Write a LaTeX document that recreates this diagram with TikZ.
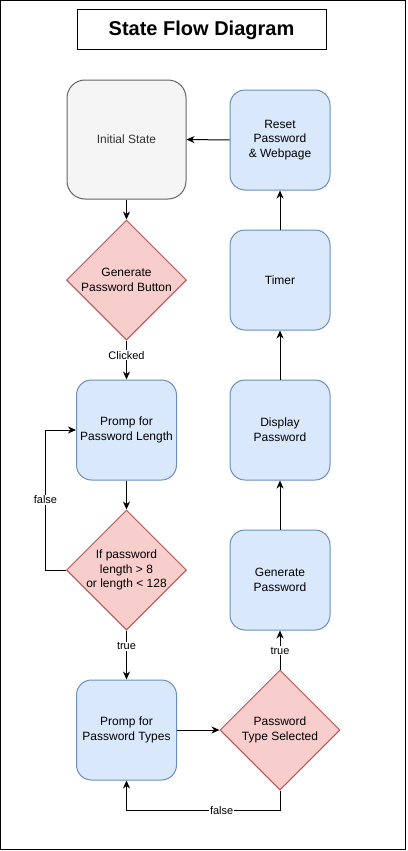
\documentclass[tikz,border=0pt]{standalone}
\usepackage{fontspec}
\setmainfont{Liberation Sans}
\usetikzlibrary{shapes.geometric,arrows.meta}
\definecolor{bluefill}{HTML}{DAE8FC}
\definecolor{bluedraw}{HTML}{6C8EBF}
\definecolor{redfill}{HTML}{F8CECC}
\definecolor{reddraw}{HTML}{B85450}
\definecolor{grayfill}{HTML}{F5F5F5}
\definecolor{graydraw}{HTML}{666666}
\definecolor{graytext}{HTML}{333333}
\begin{document}
\begin{tikzpicture}[x=1pt,y=-1pt,
  txt/.style={font=\fontsize{12}{14.6}\selectfont, align=center},
  box/.style={txt, draw=bluedraw, fill=bluefill, rounded corners=15pt,
    minimum width=100pt, minimum height=100pt, inner sep=0pt, line width=1pt},
  startbox/.style={txt, draw=graydraw, fill=grayfill, text=graytext, rounded corners=18pt,
    minimum width=119pt, minimum height=119pt, inner sep=0pt, line width=1pt},
  decision/.style={diamond, draw=reddraw, fill=redfill, minimum width=120pt,
    minimum height=120pt, inner sep=0pt, line width=1pt},
  conn/.style={line width=1pt, -{Stealth[length=8pt,width=7pt,inset=2.5pt]}},
  lab/.style={fill=white, font=\fontsize{11}{13}\selectfont, inner sep=1pt}]
\useasboundingbox (0,0) rectangle (407,851);
\draw[line width=1pt] (0.5,0.5) rectangle (405.8,849.8);

\node[draw, line width=1pt, minimum width=249pt, minimum height=40pt,
  font=\bfseries\fontsize{20}{24}\selectfont] (title) at (201.5,30) {State Flow Diagram};

\node[startbox] (init) at (126.5,139.5) {Initial State};
\node[box] (reset) at (280,140) {Reset\\Password\\\& Webpage};
\node[decision, label={[name=gpbt, txt]center:Generate\\Password Button}] (gpb) at (126.5,280) {};
\node[box] (timer) at (280,280) {Timer};
\node[box] (plen) at (126.5,430) {Promp for\\Password Length};
\node[box] (disp) at (280,430) {Display\\Password};
\node[decision, label={[name=chkt, txt]center:If password\\length > 8\\or length < 128}] (chk) at (126.5,570) {};
\node[box] (gen) at (280,580) {Generate\\Password};
\node[box] (ptypes) at (126.5,730) {Promp for\\Password Types};
\node[decision, label={[name=ptst, txt]center:Password\\Type Selected}] (pts) at (280,730) {};

\draw[conn] (reset.west) -- (init.east);
\draw[conn] (init.south) -- (gpb.north);
\draw[conn] (gpb.south) -- node[lab, pos=0.38] {Clicked} (plen.north);
\draw[conn] (plen.south) -- (chk.north);
\draw[conn] (chk.west) -- ++(-20.5,0) |- node[lab, pos=0.25] {false} (plen.west);
\draw[conn] (chk.south) -- node[lab, pos=0.32] {true} (ptypes.north);
\draw[conn] (ptypes.east) -- (pts.west);
\draw[conn] (pts.north) -- node[lab, pos=0.48] {true} (gen.south);
\draw[conn] (gen.north) -- (disp.south);
\draw[conn] (disp.north) -- (timer.south);
\draw[conn] (timer.north) -- (reset.south);
\draw[conn] (pts.south) -- ++(0,20) -| node[lab, pos=0.19] {false} (ptypes.south);
\end{tikzpicture}
\end{document}
